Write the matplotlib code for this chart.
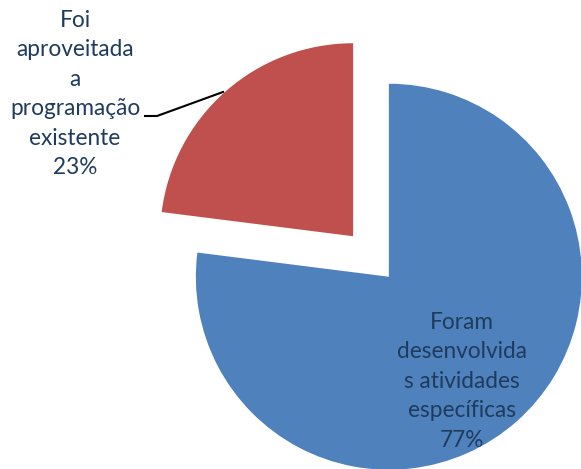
import matplotlib.pyplot as plt

# Data
categories = ["Foram\ndesenvolvida\ns atividades\nespecíficas",
              "Foi\naproveitada\na\nprogramação\nexistente"]
values = [77, 23]
colors = ["#4F81BD", "#C0504D"]
text_color = "#1F3B5E"

plt.rcParams["font.family"] = ["Lato", "DejaVu Sans"]

fig = plt.figure(figsize=(5.81, 4.69), dpi=100)
ax = fig.add_axes([0, 0, 1, 1])
ax.set_xlim(0, 581)
ax.set_ylim(0, 469)
ax.set_aspect("equal")
ax.axis("off")

radius = 193
wedges, _ = ax.pie(values, colors=colors, startangle=90, counterclock=False,
                   center=(371, 212.5), radius=radius, explode=[27, 27],
                   wedgeprops=dict(linewidth=0))
ax.set_xlim(0, 581)
ax.set_ylim(0, 469)

labels = [f"{c}\n{v}%" for c, v in zip(categories, values)]

# label inside the blue slice
ax.text(462, 469 - 381, labels[0], ha="center", va="center", fontsize=16.3,
        color=text_color, linespacing=1.5)

# label outside the red slice with a leader line
ax.text(75, 469 - 94, labels[1], ha="center", va="center", fontsize=16.3,
        color=text_color, linespacing=1.5)
ax.plot([145, 157, 223], [469 - 116, 469 - 116, 469 - 92], color="black", lw=1.5)

fig.savefig("out.png", dpi=100)
